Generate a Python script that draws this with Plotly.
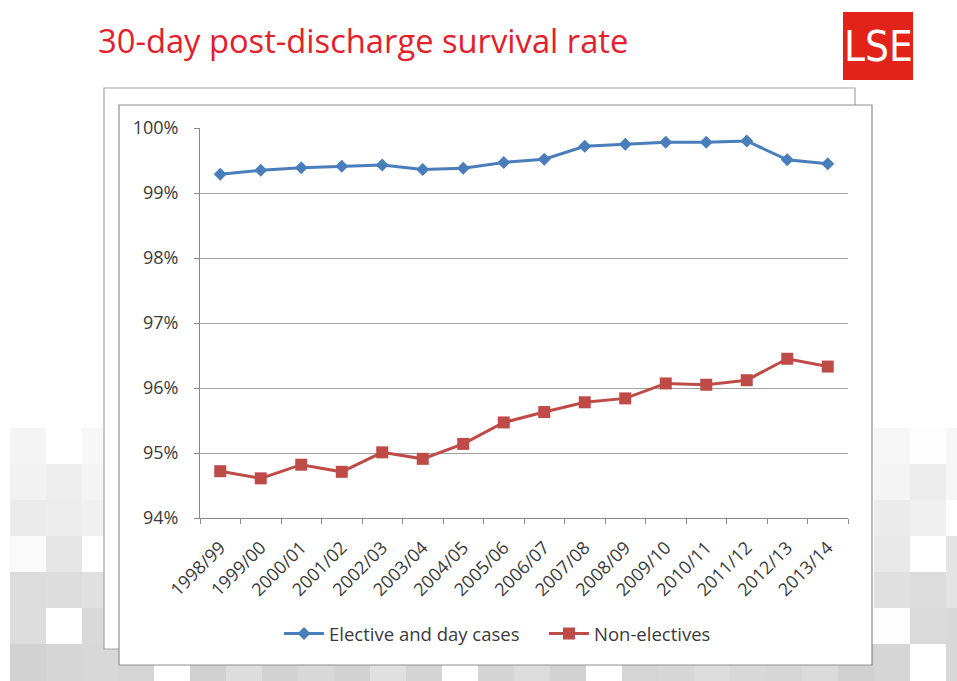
import plotly.graph_objects as go

# ---------------- data ----------------
years = ["1998/99", "1999/00", "2000/01", "2001/02", "2002/03", "2003/04",
         "2004/05", "2005/06", "2006/07", "2007/08", "2008/09", "2009/10",
         "2010/11", "2011/12", "2012/13", "2013/14"]
elective = [99.29, 99.35, 99.39, 99.41, 99.43, 99.36, 99.38, 99.47,
            99.52, 99.72, 99.75, 99.78, 99.78, 99.80, 99.51, 99.45]
non_elective = [94.72, 94.61, 94.82, 94.71, 95.01, 94.91, 95.14, 95.47,
                95.63, 95.78, 95.84, 96.07, 96.05, 96.12, 96.45, 96.33]
y_tick_vals = [94, 95, 96, 97, 98, 99, 100]
y_tick_text = ["94%", "95%", "96%", "97%", "98%", "99%", "100%"]
series_names = ["Elective and day cases", "Non-electives"]
title_text = "30-day post-discharge survival rate"
logo_text = "LSE"

# decorative background tiles (grey levels)
bg_left = [[0xf4, 0xff, 0xf7], [0xf2, 0xee, 0xf4], [0xeb, 0xec, 0xf0],
           [0xfa, 0xe6, 0xff], [0xdc, 0xdd, 0xe0], [0xdc, 0xff, 0xd9]]
bg_right = [[0xf6, 0xfe, 0xf6], [0xf4, 0xec, 0xf6], [0xeb, 0xf0, 0xff],
            [0xe8, 0xff, 0xe4], [0xe0, 0xdc, 0xe4], [0xfd, 0xda, 0xd8]]
bg_bottom = [0xd2, 0xd6, 0xd8, 0xd5, 0xff, 0xd0, 0xdd, 0xd2, 0xd8, 0xd2,
             0xe0, 0xd4, 0xff, 0xd4, 0xdc, 0xd2, 0xff, 0xd5, 0xd6, 0xdc,
             0xd8, 0xd6, 0xda, 0xd0, 0xd6, 0xff, 0xd8]

# ---------------- geometry ----------------
WIDTH, HEIGHT = 957, 681
L, R, T, B = 200, 848, 128, 518
PW, PH = R - L, B - T


def px(x):
    return (x - L) / PW


def py(y):
    return (B - y) / PH


def grey(v):
    return f"rgb({v},{v},{v})"


shapes = []
TILE, X0, Y0 = 36, 10, 428
for r, row in enumerate(bg_left):
    for c, v in enumerate(row):
        x0 = X0 + TILE * c
        y0 = Y0 + TILE * r
        shapes.append(dict(type="rect", xref="paper", yref="paper", layer="below",
                           x0=px(x0), x1=px(x0 + TILE), y0=py(y0), y1=py(y0 + TILE),
                           fillcolor=grey(v), line=dict(width=0)))
for r, row in enumerate(bg_right):
    for c, v in enumerate(row):
        x0 = X0 + TILE * (24 + c)
        y0 = Y0 + TILE * r
        shapes.append(dict(type="rect", xref="paper", yref="paper", layer="below",
                           x0=px(x0), x1=px(x0 + TILE), y0=py(y0), y1=py(y0 + TILE),
                           fillcolor=grey(v), line=dict(width=0)))
for c, v in enumerate(bg_bottom):
    x0 = X0 + TILE * c
    y0 = Y0 + TILE * 6
    shapes.append(dict(type="rect", xref="paper", yref="paper", layer="below",
                       x0=px(x0), x1=px(x0 + TILE), y0=py(y0), y1=py(y0 + TILE + 2),
                       fillcolor=grey(v), line=dict(width=0)))

# back frame and front frame
shapes.append(dict(type="rect", xref="paper", yref="paper", layer="below",
                   x0=px(104), x1=px(855), y0=py(88), y1=py(649),
                   fillcolor="white", line=dict(color="#a6a6a6", width=1.2)))
shapes.append(dict(type="rect", xref="paper", yref="paper", layer="below",
                   x0=px(119), x1=px(872), y0=py(105), y1=py(665),
                   fillcolor="white", line=dict(color="#8f8f8f", width=1.2)))
# logo box
shapes.append(dict(type="rect", xref="paper", yref="paper", layer="below",
                   x0=px(843), x1=px(913), y0=py(12), y1=py(80),
                   fillcolor="#e2231a", line=dict(width=0)))

BLUE = "#4a7ebb"
RED = "#be4b48"

fig = go.Figure()
fig.add_trace(go.Scatter(x=years, y=elective, name=series_names[0], mode="lines+markers",
                         line=dict(color=BLUE, width=3),
                         marker=dict(symbol="diamond", size=10, color=BLUE)))
fig.add_trace(go.Scatter(x=years, y=non_elective, name=series_names[1], mode="lines+markers",
                         line=dict(color=RED, width=3),
                         marker=dict(symbol="square", size=12, color=RED)))

annotations = [
    dict(text=title_text, xref="paper", yref="paper", x=px(96), y=py(41),
         xanchor="left", yanchor="middle", showarrow=False,
         font=dict(family="Open Sans", size=32.7, color="#e3202a")),
    dict(text=logo_text, xref="paper", yref="paper", x=px(878), y=py(46),
         xanchor="center", yanchor="middle", showarrow=False,
         font=dict(family="DejaVu Sans Condensed, Liberation Sans Narrow", size=42,
                   color="white")),
]

AX = "#8a8a8a"
TXT = "#3a3a3a"
fig.update_layout(
    width=WIDTH, height=HEIGHT,
    margin=dict(l=L, r=WIDTH - R, t=T, b=HEIGHT - B, pad=0),
    paper_bgcolor="white", plot_bgcolor="rgba(0,0,0,0)",
    shapes=shapes, annotations=annotations,
    showlegend=True,
    legend=dict(orientation="h", x=px(279), y=py(634), xanchor="left", yanchor="middle",
                font=dict(family="Open Sans", size=18.5, color=TXT),
                bgcolor="rgba(0,0,0,0)", itemwidth=40,
                entrywidth=210, entrywidthmode="pixels"),
    xaxis=dict(type="category", range=[-0.5, 15.5], autorange=False,
               showgrid=False, showline=True, linecolor=AX, linewidth=1,
               ticks="outside", tickson="boundaries", ticklen=5, tickcolor=AX,
               tickangle=-45, ticklabelstandoff=11,
               tickfont=dict(family="Open Sans", size=18, color=TXT)),
    yaxis=dict(range=[94, 100], tickvals=y_tick_vals, ticktext=y_tick_text,
               showgrid=True, gridcolor="#a0a0a0", gridwidth=1,
               showline=True, linecolor=AX, linewidth=1, zeroline=False,
               ticks="outside", ticklen=5, tickcolor=AX, ticklabelstandoff=12,
               tickfont=dict(family="Open Sans", size=18, color=TXT)),
)

fig.write_html("out.html")
